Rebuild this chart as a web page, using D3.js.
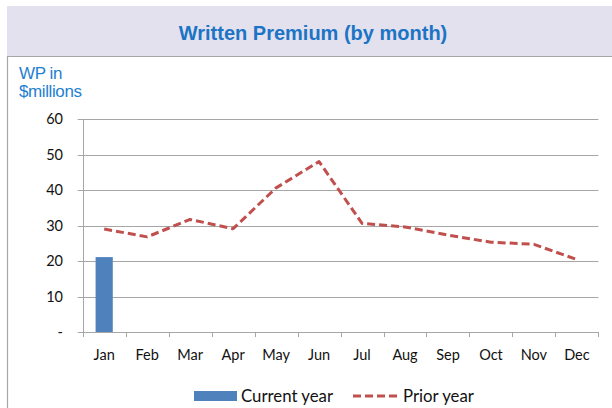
<!DOCTYPE html>
<html>
<head>
<meta charset="utf-8">
<script src="https://cdn.jsdelivr.net/npm/d3@7"></script>
<style>
  body { margin: 0; background: #fff; }
  svg { display: block; }
</style>
</head>
<body>
<div class="canvas"></div>
<script>
// chart data
const months = ['Jan', 'Feb', 'Mar', 'Apr', 'May', 'Jun', 'Jul', 'Aug', 'Sep', 'Oct', 'Nov', 'Dec'];
const currentYear = [21.1, null, null, null, null, null, null, null, null, null, null, null];
const priorYear = [29.0, 26.8, 31.7, 29.1, 40.6, 48.0, 30.6, 29.6, 27.3, 25.3, 24.7, 20.4];
const yTicks = [0, 10, 20, 30, 40, 50, 60];
const seriesNames = ['Current year', 'Prior year'];

const dims = { width: 612, height: 408 };
const plot = { left: 82.7, right: 598.4, top: 119, bottom: 332 };

const svg = d3.select('.canvas').append('svg')
  .attr('width', dims.width)
  .attr('height', dims.height);

// title banner + frame
svg.append('rect')
  .attr('x', 7).attr('y', 6).attr('width', 620).attr('height', 50)
  .attr('fill', '#e4e1ee');
svg.append('path')
  .attr('d', 'M7,56.5H612M7.5,56V408')
  .attr('stroke', '#a6a6a6').attr('stroke-width', 1.2).attr('fill', 'none');

svg.append('text')
  .attr('x', 313).attr('y', 40)
  .attr('text-anchor', 'middle')
  .attr('font-family', 'Liberation Sans, Arial, sans-serif')
  .attr('font-weight', 'bold')
  .attr('font-size', 20)
  .attr('fill', '#1b74c5')
  .text('Written Premium (by month)');

// y axis title
const yTitle = svg.append('text')
  .attr('font-family', 'Liberation Sans, Arial, sans-serif')
  .attr('font-size', 17)
  .attr('letter-spacing', -0.4)
  .attr('fill', '#1f7fd2');
yTitle.append('tspan').attr('x', 19).attr('y', 79).text('WP in');
yTitle.append('tspan').attr('x', 19).attr('y', 97).text('$millions');

// scales
const x = d3.scaleBand().domain(months).range([plot.left, plot.right]);
const y = d3.scaleLinear().domain([0, 60]).range([plot.bottom, plot.top]);

const graph = svg.append('g');

// gridlines
graph.selectAll('.grid').data(yTicks).enter().append('line')
  .attr('class', 'grid')
  .attr('x1', plot.left - 5).attr('x2', plot.right)
  .attr('y1', d => Math.round(y(d)) + 0.5).attr('y2', d => Math.round(y(d)) + 0.5)
  .attr('stroke', '#a6a6a6').attr('stroke-width', 1);

// y axis line
graph.append('line')
  .attr('x1', Math.round(plot.left) + 0.5).attr('x2', Math.round(plot.left) + 0.5)
  .attr('y1', y(60)).attr('y2', y(0))
  .attr('stroke', '#a6a6a6');

// y labels
graph.selectAll('.ylab').data(yTicks).enter().append('text')
  .attr('class', 'ylab')
  .attr('x', 63).attr('y', d => y(d) + 5)
  .attr('text-anchor', 'end')
  .attr('font-family', 'Lato, sans-serif')
  .attr('font-size', 14.5)
  .attr('fill', '#111')
  .text(d => d === 0 ? '-' : d);

// x ticks at band edges
const edges = months.map(m => x(m)).concat([x.range()[1]]);
graph.selectAll('.xtick').data(edges).enter().append('line')
  .attr('class', 'xtick')
  .attr('x1', d => Math.round(d) + 0.5).attr('x2', d => Math.round(d) + 0.5)
  .attr('y1', y(0)).attr('y2', y(0) + 5)
  .attr('stroke', '#a6a6a6');

// x labels
graph.selectAll('.xlab').data(months).enter().append('text')
  .attr('class', 'xlab')
  .attr('x', d => x(d) + x.bandwidth() / 2)
  .attr('y', 360)
  .attr('text-anchor', 'middle')
  .attr('font-family', 'Lato, sans-serif')
  .attr('font-size', 14.5)
  .attr('fill', '#111')
  .text(d => d);

// bars (current year)
const barW = x.bandwidth() * 0.4;
graph.selectAll('.bar').data(months.map((m, i) => ({ m, v: currentYear[i] })).filter(d => d.v != null))
  .enter().append('rect')
  .attr('class', 'bar')
  .attr('x', d => x(d.m) + (x.bandwidth() - barW) / 2)
  .attr('width', barW)
  .attr('y', d => y(d.v))
  .attr('height', d => y(0) - y(d.v))
  .attr('fill', '#4f81bd');

// prior year line
const line = d3.line()
  .x((d, i) => x(months[i]) + x.bandwidth() / 2)
  .y(d => y(d));
graph.append('path')
  .datum(priorYear)
  .attr('d', line)
  .attr('fill', 'none')
  .attr('stroke', '#c0504d')
  .attr('stroke-width', 3)
  .attr('stroke-dasharray', '8,4')
  .attr('stroke-linejoin', 'round');

// legend
const legend = svg.append('g');
legend.append('rect')
  .attr('x', 194).attr('y', 391).attr('width', 43).attr('height', 10)
  .attr('fill', '#4f81bd');
legend.append('text')
  .attr('x', 241).attr('y', 401.5)
  .attr('font-family', 'Lato, sans-serif').attr('font-size', 16.8)
  .attr('fill', '#111')
  .text(seriesNames[0]);
legend.append('line')
  .attr('x1', 353).attr('x2', 399).attr('y1', 396).attr('y2', 396)
  .attr('stroke', '#c0504d').attr('stroke-width', 3)
  .attr('stroke-dasharray', '8,4');
legend.append('text')
  .attr('x', 403).attr('y', 401.5)
  .attr('font-family', 'Lato, sans-serif').attr('font-size', 16.8)
  .attr('fill', '#111')
  .text(seriesNames[1]);
</script>
</body>
</html>
